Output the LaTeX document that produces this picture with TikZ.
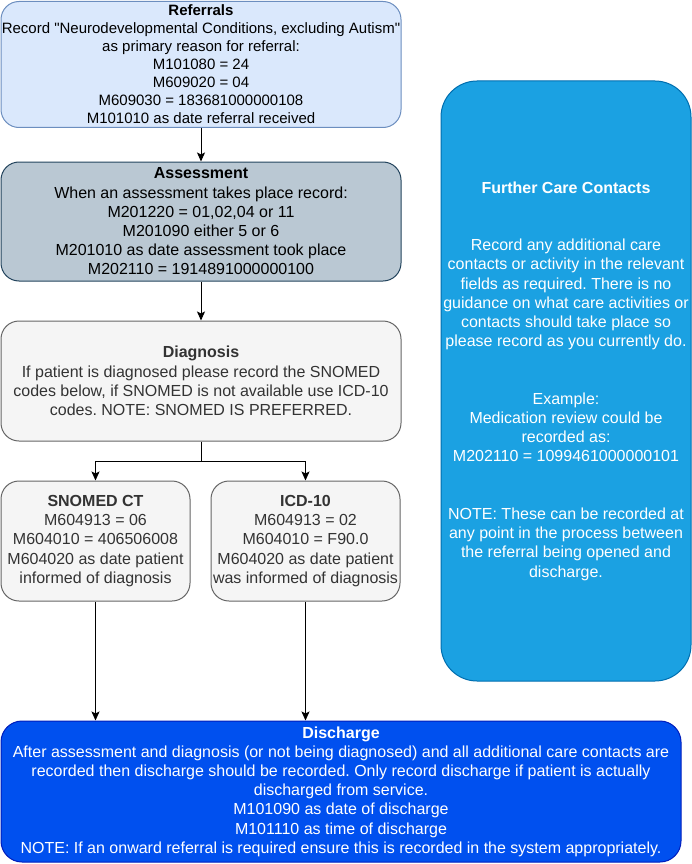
\documentclass[tikz,border=0pt]{standalone}
\usepackage{fontspec}
\setmainfont{Liberation Sans}[Ligatures=TeXOff]
\usetikzlibrary{arrows.meta}
\frenchspacing
\definecolor{refFill}{HTML}{DAE8FC}
\definecolor{refLine}{HTML}{6C8EBF}
\definecolor{asmFill}{HTML}{BAC8D3}
\definecolor{asmLine}{HTML}{23445D}
\definecolor{diaFill}{HTML}{F5F5F5}
\definecolor{diaLine}{HTML}{666666}
\definecolor{diaText}{HTML}{333333}
\definecolor{fccFill}{HTML}{1BA1E2}
\definecolor{fccLine}{HTML}{006EAF}
\definecolor{disFill}{HTML}{0050EF}
\definecolor{disLine}{HTML}{001DBC}

\begin{document}
\begin{tikzpicture}[x=1pt,y=-1pt,
  box/.style={draw, rounded corners=18pt, line width=1pt, align=center, inner sep=0pt,
    font=\fontsize{16}{19.2}\selectfont},
  grey/.style={box, fill=diaFill, draw=diaLine, text=diaText},
  arr/.style={-{Stealth[length=9pt,width=8pt,inset=2pt]}, line width=1pt}]
\useasboundingbox (0,0) rectangle (691,864);

\node [box, fill=refFill, draw=refLine, minimum width=400pt, minimum height=126pt,
  font=\fontsize{15}{18}\selectfont] (ref) at (201,64.5)
  {\textbf{Referrals}\\Record "Neurodevelopmental Conditions, excluding Autism"\\as primary reason for referral:\\M101080 = 24\\M609020 = 04\\M609030 = 183681000000108\\M101010 as date referral received};

\node [box, fill=asmFill, draw=asmLine, minimum width=400pt, minimum height=119pt] (asmt) at (201,221.5)
  {\textbf{Assessment}\\When an assessment takes place record:\\M201220 = 01,02,04 or 11\\M201090 either 5 or 6\\M201010 as date assessment took place\\M202110 = 1914891000000100};

\node [grey, minimum width=400pt, minimum height=120pt] (diag) at (201,381)
  {\textbf{Diagnosis}\\If patient is diagnosed please record the SNOMED\\codes below, if SNOMED is not available use ICD-10\\codes. NOTE: SNOMED IS PREFERRED.};

\node [grey, minimum width=189pt, minimum height=120pt] (snomed) at (95.5,541)
  {\textbf{SNOMED CT}\\M604913 = 06\\M604010 = 406506008\\M604020 as date patient\\informed of diagnosis};
\node [grey, minimum width=189pt, minimum height=120pt] (icd) at (305.5,541)
  {\textbf{ICD-10}\\M604913 = 02\\M604010 = F90.0\\M604020 as date patient\\was informed of diagnosis};

\node [box, fill=disFill, draw=disLine, text=white, rounded corners=21pt,
  minimum width=680pt, minimum height=141pt] (dis) at (341,791.5)
  {\textbf{Discharge}\\After assessment and diagnosis (or not being diagnosed) and all additional care contacts are\\recorded then discharge should be recorded. Only record discharge if patient is actually\\discharged from service.\\M101090 as date of discharge\\M101110 as time of discharge\\NOTE: If an onward referral is required ensure this is recorded in the system appropriately.};

\node [box, fill=fccFill, draw=fccLine, text=white, rounded corners=36pt,
  minimum width=250pt, minimum height=600pt] (fcc) at (566,381)
  {\textbf{Further Care Contacts}\\[38.4pt]Record any additional care\\contacts or activity in the relevant\\fields as required. There is no\\guidance on what care activities or\\contacts should take place so\\please record as you currently do.\\[38.4pt]Example:\\Medication review could be\\recorded as:\\M202110 = 1099461000000101\\[38.4pt]NOTE: These can be recorded at\\any point in the process between\\the referral being opened and\\discharge.};

\draw [arr] (ref) -- (asmt);
\draw [arr] (asmt) -- (diag);
\draw [arr] (diag.south) -- ++(0,20) -| (snomed.north);
\draw [arr] (diag.south) -- ++(0,20) -| (icd.north);
\draw [arr] (snomed.south) -- (snomed.south |- dis.north);
\draw [arr] (icd.south) -- (icd.south |- dis.north);

\end{tikzpicture}
\end{document}
